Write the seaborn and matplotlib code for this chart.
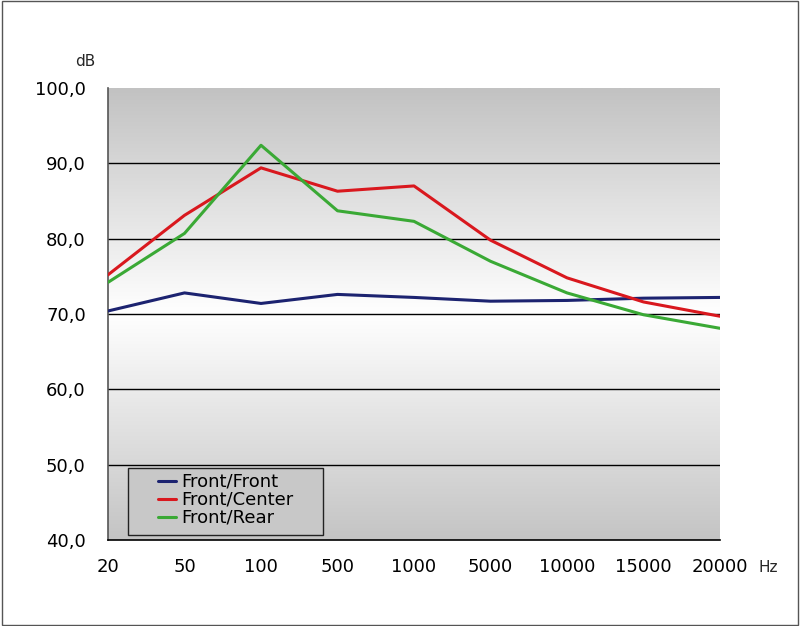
import matplotlib
matplotlib.use("Agg")
import matplotlib.pyplot as plt
import seaborn as sns
import numpy as np
import pandas as pd
from matplotlib.colors import LinearSegmentedColormap
from matplotlib.patches import Rectangle
from matplotlib.lines import Line2D

freqs = ["20", "50", "100", "500", "1000", "5000", "10000", "15000", "20000"]
front_front = [70.4, 72.8, 71.4, 72.6, 72.2, 71.7, 71.8, 72.1, 72.2]
front_center = [75.2, 83.1, 89.4, 86.3, 87.0, 79.8, 74.8, 71.6, 69.7]
front_rear = [74.2, 80.7, 92.4, 83.7, 82.3, 77.0, 72.8, 69.9, 68.1]
series_names = ["Front/Front", "Front/Center", "Front/Rear"]
colors = ["#1c2370", "#d9181e", "#3aa935"]

rows = []
for name, vals in zip(series_names, [front_front, front_center, front_rear]):
    for i, (f, v) in enumerate(zip(freqs, vals)):
        rows.append({"idx": i, "freq": f, "dB": v, "series": name})
df = pd.DataFrame(rows)

sns.set_theme(style="white")
plt.rcParams['font.family'] = ['DejaVu Sans']

fig = plt.figure(figsize=(8, 6.26), dpi=100)
ax = fig.add_axes([108/800, 1-540/626, (720-108)/800, (540-88)/626])

# gradient background
cmap = LinearSegmentedColormap.from_list("bg", [(0, "#c4c4c4"), (0.5, "#ffffff"), (1.0, "#c2c2c2")])
grad = np.linspace(0, 1, 256).reshape(-1, 1)
ax.imshow(grad, cmap=cmap, aspect="auto", extent=[0, 1, 0, 1], transform=ax.transAxes, zorder=0,
          vmin=0, vmax=1, origin="lower")

sns.lineplot(data=df, x="idx", y="dB", hue="series", palette=colors, ax=ax,
             linewidth=2.2, legend=False, zorder=3, estimator=None)

ax.set_xlim(0, len(freqs) - 1)
ax.set_ylim(40, 100)
ax.set_xticks(range(len(freqs)))
ax.set_xticklabels(freqs, fontsize=13)
yt = [40, 50, 60, 70, 80, 90, 100]
ax.set_yticks(yt)
ax.set_yticklabels([f"{v:.1f}".replace(".", ",") for v in yt], fontsize=13)
for v in [50, 60, 70, 80, 90]:
    ax.axhline(v, color="black", linewidth=1.0, zorder=2)
ax.set_xlabel("")
ax.set_ylabel("")
ax.tick_params(axis="both", which="both", direction="out", length=6, width=1, colors="#333333", labelcolor="black", pad=10)
ax.tick_params(axis="x", length=5, pad=8)
for s in ["top", "right"]:
    ax.spines[s].set_visible(False)
ax.spines["left"].set_color("#555555")
ax.spines["bottom"].set_color("black")
ax.spines["left"].set_linewidth(1.2)
ax.spines["bottom"].set_linewidth(1.2)

fig.text(85/800, 1-62/626, "dB", fontsize=11, ha="center", va="center")
fig.text(768/800, 1-568/626, "Hz", fontsize=11, ha="center", va="center")

# legend box
W, H = 612.0, 452.0
ax.add_patch(Rectangle(((128-108)/W, (540-535)/H), (323-128)/W, (535-468)/H, transform=ax.transAxes,
                       facecolor="#c8c8c8", edgecolor="#222222", linewidth=1.0, zorder=5))
handles = [Line2D([0], [0], color=c, linewidth=2.2) for c in colors]
leg = ax.legend(handles, series_names, loc="upper left", bbox_to_anchor=((158-108)/W, (540-473)/H),
                frameon=False, fontsize=13, handlelength=1.0, handletextpad=0.3,
                labelspacing=0.0, borderpad=0.0, borderaxespad=0)
for t in leg.get_texts():
    t.set_color("black")
leg.set_zorder(6)

# figure border
fig.patches.append(Rectangle((0.002, 0.002), 0.996, 0.996, transform=fig.transFigure,
                             fill=False, edgecolor="#555555", linewidth=1.0))

fig.savefig("out.png", dpi=100)
